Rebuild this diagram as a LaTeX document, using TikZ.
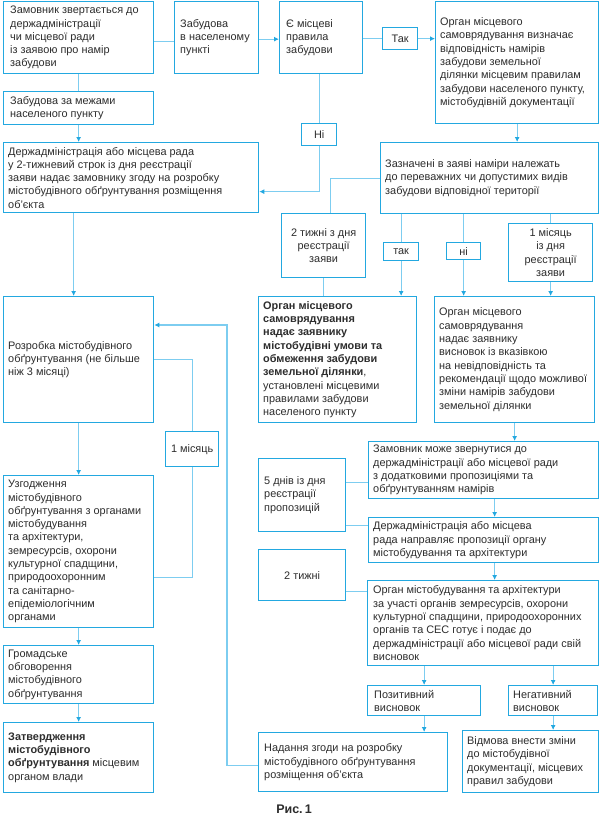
\documentclass[tikz,border=0pt]{standalone}
\usepackage{fontspec}
\setmainfont{Liberation Sans}
\usetikzlibrary{arrows.meta,calc}
\definecolor{bcol}{RGB}{35,168,224}
\definecolor{lcol}{RGB}{125,205,240}
\definecolor{tcol}{RGB}{45,45,45}
\newcommand\mybox[5]{\node[box, minimum width={#4-#2}, minimum height={#5-#3}] (#1) at (#2,#3) {};}
\begin{document}
\begin{tikzpicture}[x=1pt,y=-1pt,
  box/.style={draw=bcol, line width=1.3pt, anchor=north west, inner sep=0pt},
  txt/.style={inner sep=0pt, align=left, text=tcol, font=\fontsize{10.9}{13.3}\selectfont},
  ctxt/.style={txt, align=center},
  conn/.style={draw=lcol, line width=1.2pt},
  arr/.style={conn, -{Latex[length=5pt,width=5pt,color=bcol]}}]
\fill[white] (0,0) rectangle (600,820);
\useasboundingbox (0,0) rectangle (600,820);
% boxes
\mybox{A}{3}{1}{153}{73}
\mybox{B}{174}{1}{258}{73}
\mybox{C}{279}{1}{362}{73}
\mybox{Tak}{382}{27}{417}{49}
\mybox{E}{435}{1}{598}{123}
\mybox{A2}{3}{91}{153}{124}
\mybox{Ni}{301}{123}{336}{145}
\mybox{D}{3}{142}{258}{212}
\mybox{F}{380}{142}{598}{213}
\mybox{H}{281}{213}{365}{277}
\mybox{tak}{383}{242}{418}{260}
\mybox{ni}{446}{242}{480}{259}
\mybox{K}{508}{223}{592}{281}
\mybox{G}{3}{296}{153}{422}
\mybox{I}{258}{296}{416}{422}
\mybox{J}{434}{296}{594}{422}
\mybox{Mis}{165}{431}{218}{466}
\mybox{L}{368}{441}{598}{498}
\mybox{M}{258}{458}{345}{531}
\mybox{U}{3}{475}{153}{627}
\mybox{N}{368}{517}{598}{562}
\mybox{O}{258}{549}{345}{600}
\mybox{P}{367}{580}{598}{665}
\mybox{V}{3}{645}{153}{703}
\mybox{Q}{367}{685}{480}{715}
\mybox{R}{508}{685}{597}{715}
\mybox{W}{3}{722}{153}{792}
\mybox{S}{258}{732}{447}{791}
\mybox{T}{462}{730}{598}{792}
% texts
\node[txt,anchor=west] (At) at ([xshift=7pt]A.west) {Замовник звертається до\\держадміністрації\\чи місцевої ради\\із заявою про намір\\забудови};
\node[txt,anchor=west] (Bt) at ([xshift=6pt]B.west) {Забудова\\в населеному\\пункті};
\node[txt,anchor=west] (Ct) at ([xshift=7pt]C.west) {Є місцеві\\правила\\забудови};
\node[ctxt] (Takt) at (Tak.center) {Так};
\node[txt,anchor=west] (Et) at ([xshift=5pt]E.west) {Орган місцевого\\самоврядування визначає\\відповідність намірів\\забудови земельної\\ділянки місцевим правилам\\забудови населеного пункту,\\містобудівній документації};
\node[txt,anchor=west] (A2t) at ([xshift=7pt]A2.west) {Забудова за межами\\населеного пункту};
\node[ctxt] (Nit) at (Ni.center) {Ні};
\node[txt,anchor=west] (Dt) at ([xshift=5pt]D.west) {Держадміністрація або місцева рада\\у 2-тижневий строк із дня реєстрації\\заяви надає замовнику згоду на розробку\\містобудівного обґрунтування розміщення\\об’єкта};
\node[txt,anchor=west] (Ft) at ([xshift=5pt]F.west) {Зазначені в заяві наміри належать\\до переважних чи допустимих видів\\забудови відповідної території};
\node[ctxt] (Ht) at (H.center) {2 тижні з дня\\реєстрації\\заяви};
\node[ctxt] (takt) at (tak.center) {так};
\node[ctxt] (nit) at (ni.center) {ні};
\node[ctxt] (Kt) at (K.center) {1 місяць\\із дня\\реєстрації\\заяви};
\node[txt,anchor=west] (Gt) at ([xshift=5pt]G.west) {Розробка містобудівного\\обґрунтування (не більше\\ніж 3 місяці)};
\node[txt,anchor=west] (It) at ([xshift=5pt]I.west) {\textbf{Орган місцевого}\\\textbf{самоврядування}\\\textbf{надає заявнику}\\\textbf{містобудівні умови та}\\\textbf{обмеження забудови}\\\textbf{земельної ділянки},\\установлені місцевими\\правилами забудови\\населеного пункту};
\node[txt,anchor=west] (Jt) at ([xshift=5pt]J.west) {Орган місцевого\\самоврядування\\надає заявнику\\висновок із вказівкою\\на невідповідність та\\рекомендації щодо можливої\\зміни намірів забудови\\земельної ділянки};
\node[ctxt] (Mist) at (Mis.center) {1 місяць};
\node[txt,anchor=west] (Lt) at ([xshift=5pt]L.west) {Замовник може звернутися до\\держадміністрації або місцевої ради\\з додатковими пропозиціями та\\обґрунтуванням намірів};
\node[txt,anchor=west] (Mt) at ([xshift=6pt]M.west) {5 днів із дня\\реєстрації\\пропозицій};
\node[txt,anchor=west] (Ut) at ([xshift=5pt]U.west) {Узгодження\\містобудівного\\обґрунтування з органами\\містобудування\\та архітектури,\\земресурсів, охорони\\культурної спадщини,\\природоохоронним\\та санітарно-\\епідеміологічним\\органами};
\node[txt,anchor=west] (Nt) at ([xshift=5pt]N.west) {Держадміністрація або місцева\\рада направляє пропозиції органу\\містобудування та архітектури};
\node[ctxt] (Ot) at (O.center) {2 тижні};
\node[txt,anchor=west] (Pt) at ([xshift=6pt]P.west) {Орган містобудування та архітектури\\за участі органів земресурсів, охорони\\культурної спадщини, природоохоронних\\органів та СЕС готує і подає до\\держадміністрації або місцевої ради свій\\висновок};
\node[txt,anchor=west] (Vt) at ([xshift=5pt]V.west) {Громадське\\обговорення\\містобудівного\\обґрунтування};
\node[txt,anchor=west] (Qt) at ([xshift=7pt]Q.west) {Позитивний\\висновок};
\node[txt,anchor=west] (Rt) at ([xshift=5pt]R.west) {Негативний\\висновок};
\node[txt,anchor=west] (Wt) at ([xshift=5pt]W.west) {\textbf{Затвердження}\\\textbf{містобудівного}\\\textbf{обґрунтування} місцевим\\органом влади};
\node[txt,anchor=west] (St) at ([xshift=6pt]S.west) {Надання згоди на розробку\\містобудівного обґрунтування\\розміщення об’єкта};
\node[txt,anchor=west] (Tt) at ([xshift=5pt]T.west) {Відмова внести зміни\\до містобудівної\\документації, місцевих\\правил забудови};
\node[text=tcol, font=\bfseries\fontsize{12.5}{14}\selectfont, inner sep=0pt] (cap) at (294,809) {Рис.\,1};
% helper coordinates
\coordinate (ab1) at ([yshift=-4pt]A.east);
\coordinate (bc1) at ([yshift=-1.5pt]B.east);
\coordinate (dg) at ([xshift=-5pt]G.north);
\coordinate (nd) at ([yshift=-14pt]D.east);
\coordinate (fh) at ([xshift=7pt]H.north);
\coordinate (ue) at ([yshift=-26pt]U.east);
\coordinate (bend) at (227,325);
\coordinate (sw) at ([yshift=-3.5pt]S.west);
\coordinate (ml) at ([yshift=12.5pt]M.east);
\coordinate (mn) at ([yshift=-30.5pt]M.east);
\coordinate (ln) at ([xshift=11pt]L.south);
\coordinate (np) at ([xshift=11pt]N.south);
\coordinate (op) at ([yshift=-16.5pt]O.east);
% connectors
\draw[conn] (ab1) -- (ab1 -| B.west);
\draw[arr] (bc1) -- (bc1 -| C.west);
\draw[conn] (Tak.west -| C.east) -- (Tak.west);
\draw[arr] (Tak.east) -- (Tak.east -| E.west);
\draw[arr] (E.south) -- (E.south |- F.north);
\draw[conn] (A.south) -- (A.south |- A2.north);
\draw[arr] (A2.south) -- (A2.south |- D.north);
\draw[conn] (Ni.north |- C.south) -- (Ni.north);
\draw[arr] (Ni.south) |- (nd);
\draw[conn] (F.west) -| (fh);
\draw[conn] (H.south) -- (H.south |- I.north);
\draw[conn] (tak.north |- F.south) -- (tak.north);
\draw[arr] (tak.south) -- (tak.south |- I.north);
\draw[conn] (ni.north |- F.south) -- (ni.north);
\draw[arr] (ni.south) -- (ni.south |- J.north);
\draw[conn] (K.north |- F.south) -- (K.north);
\draw[arr] (K.south) -- (K.south |- J.north);
\draw[arr] (dg |- D.south) -- (dg);
\draw[arr] (G.south) -- (G.south |- U.north);
\draw[arr] (U.south) -- (U.south |- V.north);
\draw[arr] (V.south) -- (V.south |- W.north);
\draw[conn] (G.east) -| (Mis.north);
\draw[conn] (Mis.south) |- (ue);
\draw[arr] (sw) -| (bend) -- (bend -| G.east);
\draw[arr] (J.south) -- (J.south |- L.north);
\draw[conn] (ml) -- (ml -| L.west);
\draw[conn] (mn) -- (mn -| N.west);
\draw[arr] (ln) -- (ln |- N.north);
\draw[arr] (np) -- (np |- P.north);
\draw[conn] (op) -- (op -| P.west);
\draw[arr] (Q.north |- P.south) -- (Q.north);
\draw[arr] (R.north |- P.south) -- (R.north);
\draw[arr] (Q.south) -- (Q.south |- S.north);
\draw[arr] (R.south) -- (R.south |- T.north);
\end{tikzpicture}
\end{document}
